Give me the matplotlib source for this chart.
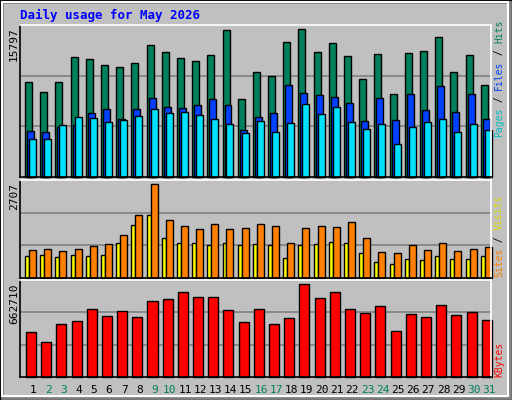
import matplotlib.pyplot as plt
import numpy as np
from matplotlib.patches import Rectangle

days = list(range(1, 32))
weekend = [2, 3, 9, 10, 16, 17, 23, 24, 30, 31]

hits = [10114, 9042, 10114, 12795, 12580, 11937, 11723, 12152, 14082, 13331, 12688, 12366, 13009, 15690, 8292, 11187,
        10758, 14403, 15797, 13331, 14296, 12902, 10436, 13117, 8828, 13224, 13438, 14939, 11187, 13009, 9793]
files = [4861, 4753, 5290, 5504, 6791, 7219, 6147, 7219, 8399, 7434, 7327, 7648, 8292, 7648, 4968, 6362,
         6791, 9793, 8935, 8721, 8506, 7863, 5933, 8399, 6040, 8828, 7112, 9686, 6898, 8828, 6147]
pages = [4003, 4003, 5504, 6362, 6255, 5826, 6040, 6469, 7219, 6791, 6898, 6576, 6147, 5611, 4646, 5933,
         4753, 5718, 7756, 6683, 7434, 5826, 5075, 5611, 3574, 5290, 5826, 6147, 4753, 5611, 4968]
visits = [824, 853, 794, 853, 912, 971, 1236, 1824, 2707, 1677, 1501, 1412, 1559, 1412, 1442, 1559,
          1501, 1000, 1442, 1501, 1471, 1618, 1148, 765, 736, 942, 824, 1000, 794, 853, 883]
sites = [647, 677, 618, 677, 647, 677, 1000, 1530, 1824, 1148, 1000, 1000, 942, 1000, 942, 971,
         942, 588, 942, 971, 1030, 1000, 736, 471, 412, 559, 530, 647, 559, 559, 647]
kbytes = [320430, 247605, 378690, 400538, 487928, 436950, 473363, 429668, 538905, 553470, 604448, 568035,
          568035, 480645, 393255, 487928, 378690, 422385, 662710, 560753, 604448, 487928, 458798, 509775,
          327713, 451515, 429668, 517058, 444233, 466080, 407820]

BG = '#c0c0c0'
W, H = 512, 400
fig = plt.figure(figsize=(5.12, 4.0), dpi=100, facecolor=BG)

# frame / bevel
fig.patches.append(Rectangle((0, 0), 1, 1, transform=fig.transFigure, fill=False, ec='black', lw=2))
fig.patches.append(Rectangle((2/W, 2/H), 1-4/W, 1-4/H, transform=fig.transFigure, fill=False, ec='#808080', lw=2))
fig.patches.append(Rectangle((2/W, 4/H), 1-6/W, 1-6/H, transform=fig.transFigure, fill=False, ec='white', lw=1.5))


def panel(top, bottom):
    ax = fig.add_axes([20/W, 1-bottom/H, 471/W, (bottom-top)/H])
    ax.set_facecolor(BG)
    ax.set_xlim(0, 31)
    ax.set_xticks([])
    ax.set_yticks([])
    for s in ['top', 'right']:
        ax.spines[s].set_color('white')
    for s in ['bottom', 'left']:
        ax.spines[s].set_color('black')
    for s in ax.spines.values():
        s.set_linewidth(1.2)
    return ax


def grid(ax, top):
    ax.set_ylim(0, top)
    for f in (1/3, 2/3):
        ax.axhline(top*f, color='#808080', lw=1.2, zorder=0)


x = np.arange(31)
kw = dict(align='edge', edgecolor='black', linewidth=1, clip_on=False)

ax1 = panel(25, 177)
grid(ax1, 15797*1.027)
ax1.bar(x+0.33, hits, width=0.46, color='#00805c', **kw)
ax1.bar(x+0.46, files, width=0.46, color='#0040ff', **kw)
ax1.bar(x+0.59, pages, width=0.46, color='#00e0ff', **kw)

ax2 = panel(180, 278)
grid(ax2, 2707*1.047)
ax2.bar(x+0.33, sites, width=0.26, color='#ffff00', **kw)
ax2.bar(x+0.59, visits, width=0.46, color='#ff8000', **kw)

ax3 = panel(280, 377)
grid(ax3, 662710*1.044)
ax3.bar(x+0.39, kbytes, width=0.66, color='#ff0000', **kw)

mono = 'DejaVu Sans Mono'
fig.text(20/W, 1-15/H, 'Daily usage for May 2026', color='#0000ff', family=mono,
         weight='bold', fontsize=9, va='center')

for y, lab in [(27, '15797'), (183, '2707'), (283, '662710')]:
    fig.text(14/W, 1-y/H, lab, rotation=90, ha='center', va='top', fontsize=8, family=mono)

def side(y0, parts):
    y = y0
    for txt, col in parts:
        fig.text(499/W, 1-y/H, txt, rotation=90, ha='center', va='bottom', color=col,
                 family=mono, fontsize=7)
        y -= len(txt)*5.85

side(137, [('Pages', '#00c0c0'), (' / ', '#000000'), ('Files', '#0040ff'), (' / ', '#000000'), ('Hits', '#00805c')])
side(277, [('Sites', '#ff8000'), (' / ', '#000000'), ('Visits', '#e0e000')])
side(377, [('KBytes', '#ff0000')])

for d in days:
    fig.text((20 + (d-1)*15.2 + 13)/W, 1-390/H, str(d), ha='center', va='center', fontsize=8,
             family=mono, color='#00805c' if d in weekend else 'black')

fig.savefig('out.png', dpi=100, facecolor=BG)
